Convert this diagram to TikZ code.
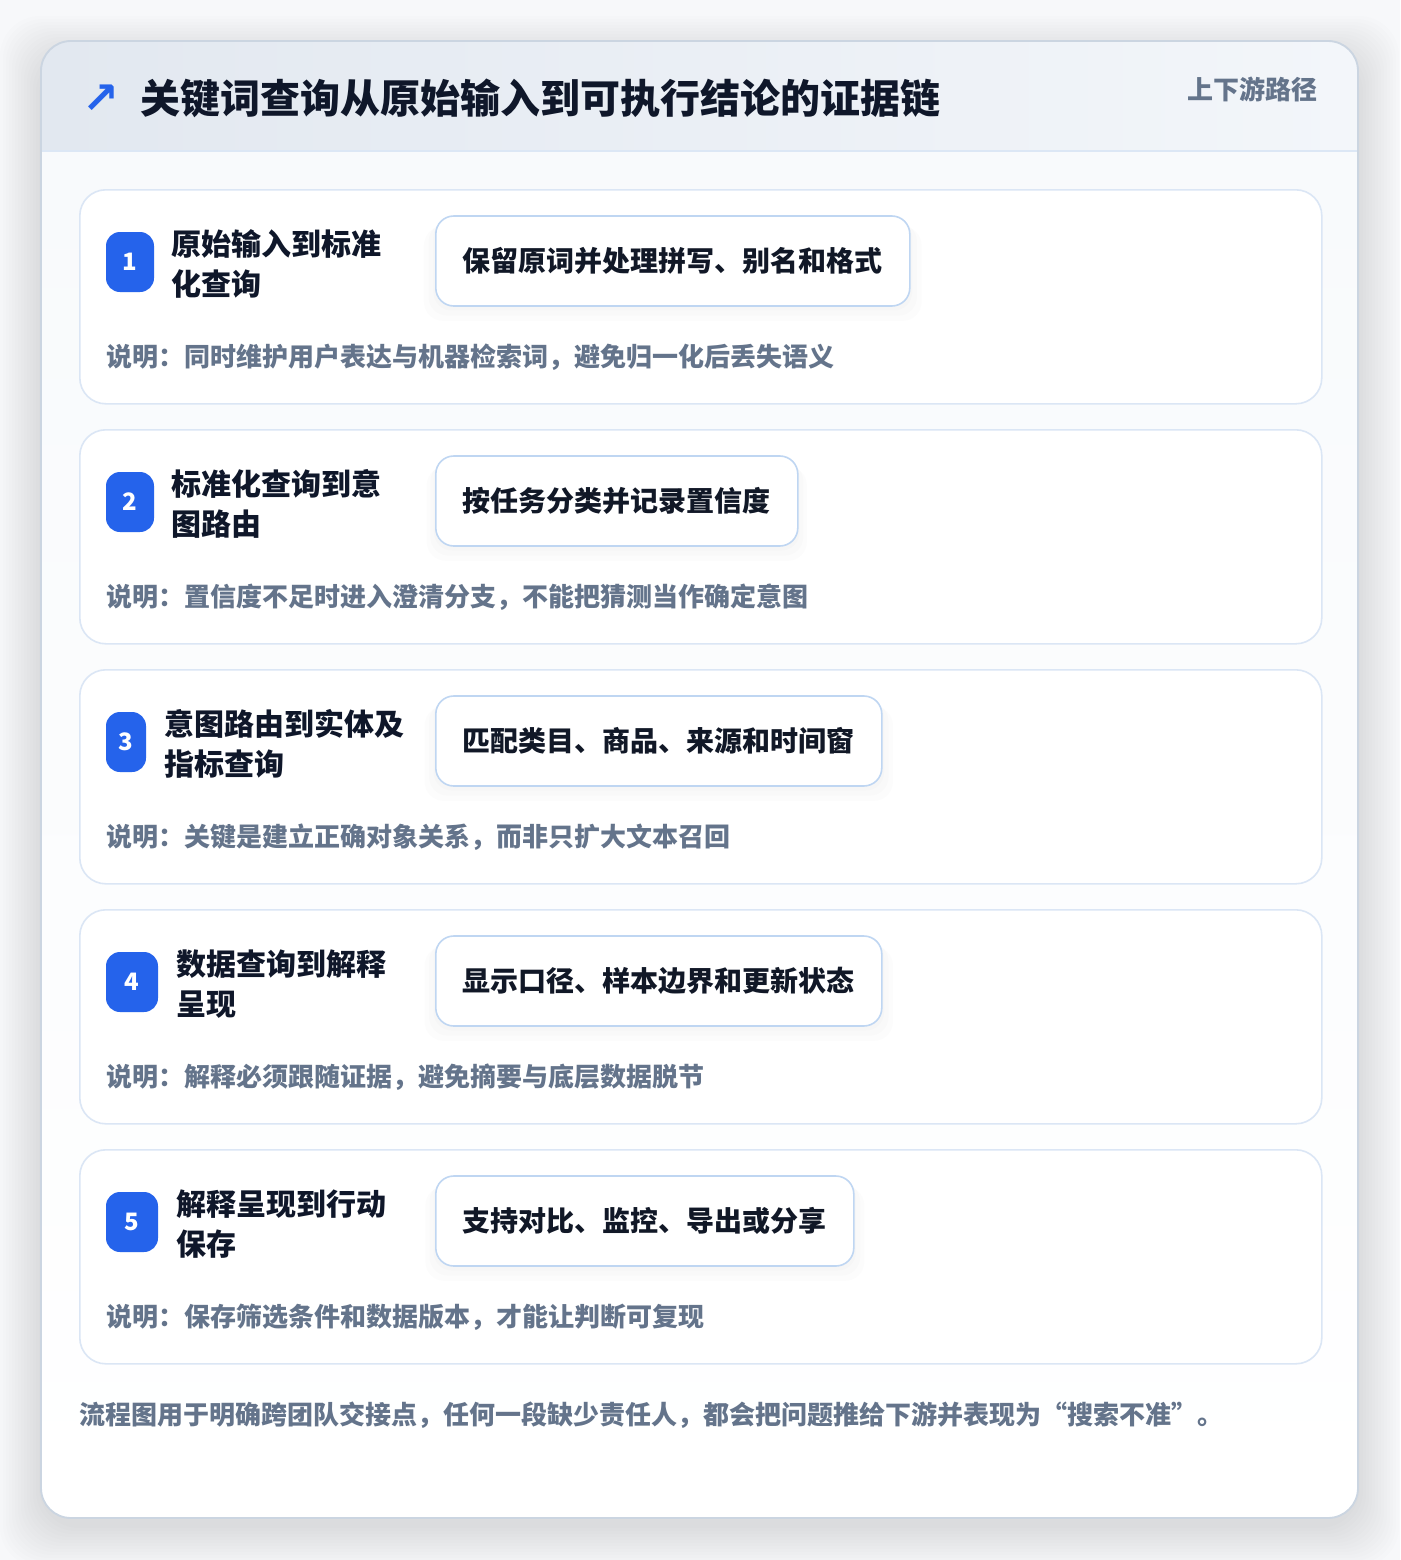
\documentclass[tikz,border=0pt]{standalone}
\usepackage{fontspec}
\setmainfont{Noto Sans CJK SC}
\newfontfamily\symfont{DejaVu Sans}
\usetikzlibrary{shadows}
\definecolor{pagebg}{HTML}{F7F8FA}
\definecolor{cardborder}{HTML}{CBD5E1}
\definecolor{hdrL}{HTML}{E2E8F0}
\definecolor{hdrR}{HTML}{F3F6FA}
\definecolor{hdrline}{HTML}{DCE7F5}
\definecolor{bodytop}{HTML}{F8FAFC}
\definecolor{stepborder}{HTML}{DBE6F5}
\definecolor{pillborder}{HTML}{BFD6F2}
\definecolor{accent}{HTML}{2563EB}
\definecolor{ink}{HTML}{0F172A}
\definecolor{pillink}{HTML}{111827}
\definecolor{muted}{HTML}{64748B}
\tikzset{
  stepcard/.style={draw=stepborder, line width=1.2pt, fill=white, rounded corners=19.5pt,
    minimum width=931.5pt, minimum height=160.5pt, inner sep=0pt, anchor=north west},
  badgebox/.style={fill=accent, rounded corners=10.5pt, minimum height=45pt, inner sep=0pt,
    text=white, font=\bfseries\fontsize{18pt}{20pt}\selectfont},
  steptitle/.style={anchor=west, inner sep=0pt, align=left, text=ink,
    font=\bfseries\fontsize{22.5pt}{30pt}\selectfont},
  pillbox/.style={anchor=west, draw=pillborder, line width=1.2pt, fill=white, rounded corners=13.5pt,
    inner xsep=20.25pt, inner ysep=0pt, minimum height=67.5pt, text=pillink,
    font=\bfseries\fontsize{21pt}{24pt}\selectfont,
    drop shadow={opacity=0.02, shadow xshift=0pt, shadow yshift=-9pt, shadow scale=1.05},
    drop shadow={opacity=0.025, shadow xshift=0pt, shadow yshift=-6pt, shadow scale=1.03},
    drop shadow={opacity=0.025, shadow xshift=0pt, shadow yshift=-3pt, shadow scale=1.01}},
  notetext/.style={anchor=west, inner sep=0pt, text=muted,
    font=\bfseries\fontsize{19.5pt}{22pt}\selectfont},
}
\begin{document}
\begin{tikzpicture}[x=0.75pt,y=-0.75pt]
\useasboundingbox (0,0) rectangle (1400,1560);
\fill[pagebg] (0,0) rectangle (1400,1560);
% soft shadow of the main card
\foreach \s in {2,5,...,41}{
  \fill[black, opacity=0.006, rounded corners=30pt] (41-\s,41-\s+16) rectangle (1358+\s,1518+\s+8);
}
% main card
\fill[white, rounded corners=22.5pt] (41,41) rectangle (1358,1518);
\begin{scope}
  \clip[rounded corners=22.5pt] (41,41) rectangle (1358,1518);
  \shade[top color=bodytop, bottom color=white] (41,151) rectangle (1358,1518);
  \shade[left color=hdrL, right color=hdrR] (41,41) rectangle (1358,151);
\end{scope}
\draw[hdrline, line width=1.2pt] (41,151) -- (1358,151);
\draw[cardborder, line width=1.4pt, rounded corners=22.5pt] (41,41) rectangle (1358,1518);
% header
\node[text=accent, inner sep=0pt, font=\symfont\bfseries\fontsize{33pt}{36pt}\selectfont] (icon) at (101,99) {↗};
\node[anchor=west, inner sep=0pt, text=ink, font=\bfseries\fontsize{30pt}{34pt}\selectfont] (title) at (140,98) {关键词查询从原始输入到可执行结论的证据链};
\node[anchor=east, inner sep=0pt, text=muted, font=\bfseries\fontsize{19.5pt}{22pt}\selectfont] (tag) at (1318,89) {上下游路径};
% steps
\foreach \i/\t/\bw/\tx/\ttl/\pill/\note in {
  1/189/48/171/{原始输入到标准\\化查询}/{保留原词并处理拼写、别名和格式}/{说明：同时维护用户表达与机器检索词，避免归一化后丢失语义},
  2/429/48/171/{标准化查询到意\\图路由}/{按任务分类并记录置信度}/{说明：置信度不足时进入澄清分支，不能把猜测当作确定意图},
  3/669/40/164/{意图路由到实体及\\指标查询}/{匹配类目、商品、来源和时间窗}/{说明：关键是建立正确对象关系，而非只扩大文本召回},
  4/909/52/176/{数据查询到解释\\呈现}/{显示口径、样本边界和更新状态}/{说明：解释必须跟随证据，避免摘要与底层数据脱节},
  5/1149/52/176/{解释呈现到行动\\保存}/{支持对比、监控、导出或分享}/{说明：保存筛选条件和数据版本，才能让判断可复现}}{
  \node[stepcard] (card\i) at (79,\t) {};
  \node[badgebox, minimum width=\bw*0.75pt] (badge\i) at (106+\bw/2,\t+73) {\i};
  \node[steptitle] (stitle\i) at (\tx,\t+75) {\ttl};
  \node[pillbox] (pill\i) at (435,\t+72) {\pill};
  \node[notetext] (note\i) at (106,\t+168) {\note};
}
% footer
\node[notetext] (footer) at (79,1415) {流程图用于明确跨团队交接点，任何一段缺少责任人，都会把问题推给下游并表现为“搜索不准”。};
\end{tikzpicture}
\end{document}
